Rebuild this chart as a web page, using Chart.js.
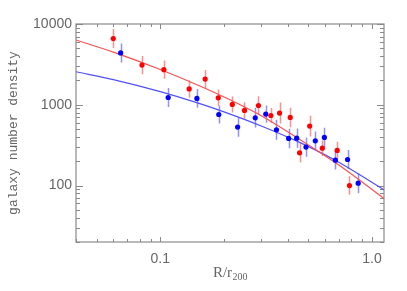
<!DOCTYPE html>
<html>
<head>
<meta charset="utf-8">
<script src="https://cdn.jsdelivr.net/npm/chart.js@4/dist/chart.umd.min.js"></script>
<style>
  html, body { margin: 0; padding: 0; background: #fff; }
  #wrap { width: 407px; height: 291px; }
</style>
</head>
<body>
<div id="wrap"><canvas id="myChart" width="407" height="291"></canvas></div>
<script>
// measured points (R/r200, density)
const xRed = [0.060, 0.082, 0.104, 0.137, 0.163, 0.188, 0.219, 0.250, 0.291, 0.333, 0.366, 0.411, 0.455, 0.508, 0.583, 0.685, 0.783];
const yRed = [6600, 3100, 2720, 1570, 2080, 1220, 1010, 850, 980, 736, 790, 697, 254, 545, 290, 272, 100];
const errRed = [0.118, 0.112, 0.112, 0.108, 0.112, 0.103, 0.099, 0.103, 0.115, 0.093, 0.13, 0.121, 0.118, 0.128, 0.097, 0.108, 0.115]; // dex

const xBlue = [0.065, 0.109, 0.149, 0.189, 0.232, 0.281, 0.315, 0.354, 0.404, 0.441, 0.488, 0.540, 0.596, 0.672, 0.767, 0.861];
const yBlue = [4380, 1230, 1200, 758, 529, 690, 766, 490, 383, 386, 299, 358, 394, 206, 210, 107];
const errBlue = [0.118, 0.118, 0.115, 0.112, 0.118, 0.121, 0.108, 0.124, 0.12, 0.12, 0.118, 0.115, 0.12, 0.114, 0.118, 0.124];

// fitted curves
const fitX = [0.04, 0.06, 0.1, 0.15, 0.2, 0.3, 0.45, 0.7, 1.14];
const fitRed = [6340, 4490, 2735, 1760, 1250, 730, 380, 178, 69];
const fitBlue = [2565, 2050, 1455, 1057, 818, 547, 347, 193, 88.5];

const yTicks = [100, 1000, 10000];
const xTicks = [0.1, 1];

const pts = (xs, ys) => xs.map((x, i) => ({ x: x, y: ys[i] }));

const axisColor = "#8a8a8a";
const textColor = "#666";

const framePlugin = {
  id: "frame",
  beforeDatasetsDraw(chart) {
    const ctx = chart.ctx;
    const a = chart.chartArea;
    const xs = chart.scales.x, ys = chart.scales.y;
    ctx.save();

    // error bars
    const bars = function (xv, yv, ev, color) {
      ctx.strokeStyle = color;
      ctx.lineWidth = 1.5;
      ctx.beginPath();
      for (let i = 0; i < xv.length; i++) {
        const px = Math.round(xs.getPixelForValue(xv[i])) + 0.5;
        const f = Math.pow(10, ev[i]);
        ctx.moveTo(px, ys.getPixelForValue(yv[i] * f));
        ctx.lineTo(px, ys.getPixelForValue(yv[i] / f));
      }
      ctx.stroke();
    };
    bars(xRed, yRed, errRed, "#ff9090");
    bars(xBlue, yBlue, errBlue, "#9090ff");

    // frame
    ctx.strokeStyle = axisColor;
    ctx.lineWidth = 1.2;
    ctx.strokeRect(a.left, a.top, a.right - a.left, a.bottom - a.top);

    ctx.lineWidth = 1;
    ctx.beginPath();
    [0.01, 0.1, 1].forEach(function (d) {
      for (let k = 1; k < 10; k++) {
        const v = k * d;
        if (v < xs.min || v > xs.max) continue;
        const px = Math.round(xs.getPixelForValue(v)) + 0.5;
        const len = k == 1 ? 5 : 3;
        ctx.moveTo(px, a.bottom); ctx.lineTo(px, a.bottom - len);
        ctx.moveTo(px, a.top); ctx.lineTo(px, a.top + len);
      }
    });
    [10, 100, 1000, 10000].forEach(function (d) {
      for (let k = 1; k < 10; k++) {
        const v = k * d;
        if (v < ys.min || v > ys.max) continue;
        const py = Math.round(ys.getPixelForValue(v)) + 0.5;
        const len = k == 1 ? 7 : 4;
        ctx.moveTo(a.left, py); ctx.lineTo(a.left + len, py);
        ctx.moveTo(a.right, py); ctx.lineTo(a.right - len, py);
      }
    });
    ctx.stroke();
    ctx.restore();
  },
  afterDraw(chart) {
    const ctx = chart.ctx;
    const a = chart.chartArea;
    ctx.save();
    ctx.fillStyle = textColor;
    // x title: R/r with subscript 200
    const cx = (a.left + a.right) / 2;
    ctx.font = "15px 'Liberation Serif'";
    const w1 = ctx.measureText("R/r").width;
    ctx.font = "10px 'Liberation Serif'";
    const w2 = ctx.measureText("200").width;
    const x0 = cx - (w1 + w2) / 2;
    ctx.textBaseline = "alphabetic";
    ctx.textAlign = "left";
    ctx.font = "15px 'Liberation Serif'";
    ctx.fillText("R/r", x0, 277);
    ctx.font = "10px 'Liberation Serif'";
    ctx.fillText("200", x0 + w1 + 0.5, 280);

    // y title
    ctx.translate(14, (a.top + a.bottom) / 2);
    ctx.rotate(-Math.PI / 2);
    ctx.textAlign = "center";
    ctx.textBaseline = "middle";
    ctx.font = "13px 'Liberation Mono'";
    ctx.fillText("galaxy number density", 0, 0);
    ctx.restore();
  },
};

const data = {
  datasets: [
    {
      data: pts(xRed, yRed),
      pointStyle: "circle",
      pointRadius: 2.6,
      pointBorderWidth: 0,
      backgroundColor: "#ff0000",
      showLine: false,
    },
    {
      data: pts(xBlue, yBlue),
      pointStyle: "circle",
      pointRadius: 2.6,
      pointBorderWidth: 0,
      backgroundColor: "#0000ff",
      showLine: false,
    },
    {
      data: pts(fitX, fitRed),
      showLine: true,
      borderColor: "#ff5050",
      borderWidth: 1.2,
      pointRadius: 0,
      cubicInterpolationMode: "monotone",
    },
    {
      data: pts(fitX, fitBlue),
      showLine: true,
      borderColor: "#5050ff",
      borderWidth: 1.2,
      pointRadius: 0,
      cubicInterpolationMode: "monotone",
    },
  ],
};

const config = {
  type: "scatter",
  data,
  options: {
    responsive: false,
    animation: false,
    layout: { padding: { top: 24, right: 23, left: 0, bottom: 0 } },
    plugins: { legend: { display: false }, tooltip: { enabled: false } },
    scales: {
      x: {
        type: "logarithmic",
        min: 0.04,
        max: 1.14,
        grid: { display: false, drawTicks: false },
        border: { display: false },
        afterBuildTicks: (s) => { s.ticks = xTicks.map((v) => ({ value: v })); },
        afterFit: (s) => { s.height = 49; },
        ticks: {
          padding: 9,
          color: textColor,
          font: { family: "Liberation Sans", size: 14 },
          callback: (v) => (v == 1 ? "1.0" : String(v)),
        },
      },
      y: {
        type: "logarithmic",
        min: 20,
        max: 10000,
        grid: { display: false, drawTicks: false },
        border: { display: false },
        afterBuildTicks: (s) => { s.ticks = yTicks.map((v) => ({ value: v })); },
        afterFit: (s) => { s.width = 76; },
        ticks: {
          padding: 4,
          color: textColor,
          font: { family: "Liberation Sans", size: 14 },
          callback: (v) => String(v),
        },
      },
    },
  },
  plugins: [framePlugin],
};

var myChart = new Chart(document.getElementById("myChart"), config);
</script>
</body>
</html>
